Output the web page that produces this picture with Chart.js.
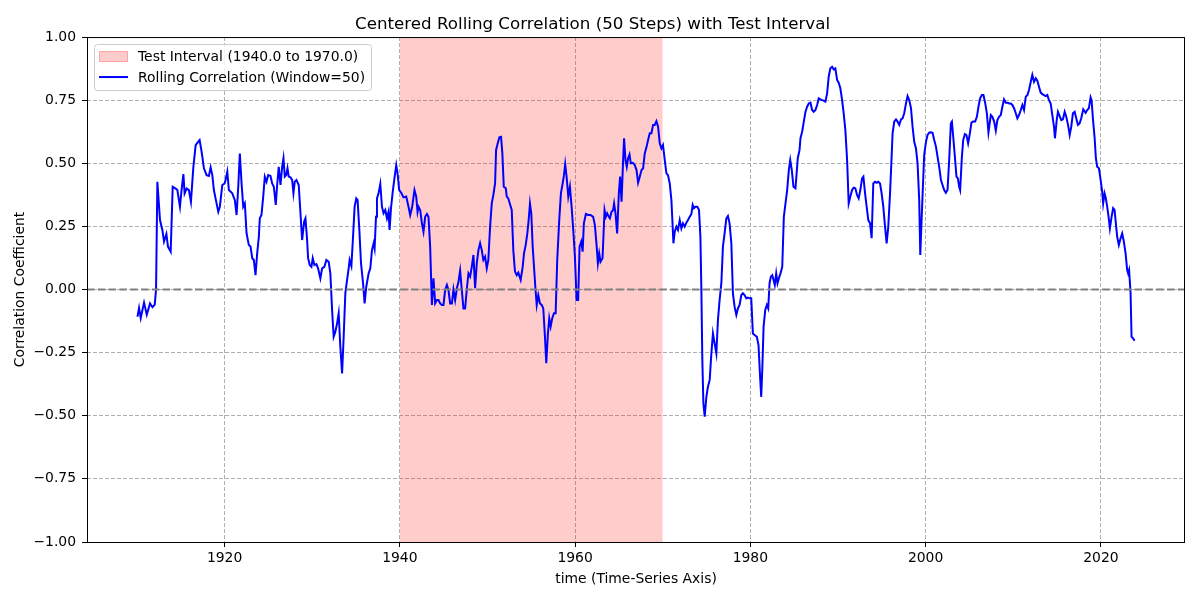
<!DOCTYPE html>
<html>
<head>
<meta charset="utf-8">
<script src="https://cdn.jsdelivr.net/npm/chart.js@4.4.1/dist/chart.umd.min.js"></script>
<style>
  html, body { margin: 0; padding: 0; background: #fff; }
</style>
</head>
<body>
<canvas id="myChart" width="1200" height="600"></canvas>
<script>
//Chart data
const years = [
  1910.06, 1910.24, 1910.43, 1910.81, 1911.12, 1911.49, 1911.77, 1912.03, 1912.18, 1912.33,
  1912.63, 1912.90, 1913.09, 1913.36, 1913.54, 1913.85, 1914.08, 1914.42, 1914.61, 1914.91,
  1915.07, 1915.30, 1915.44, 1915.67, 1915.93, 1916.16, 1916.44, 1916.70, 1916.89, 1917.15,
  1917.35, 1917.46, 1917.64, 1917.95, 1918.21, 1918.41, 1918.60, 1918.78, 1919.01, 1919.28,
  1919.46, 1919.74, 1920.00, 1920.11, 1920.31, 1920.49, 1920.88, 1921.17, 1921.37, 1921.56,
  1921.74, 1921.94, 1922.13, 1922.31, 1922.51, 1922.77, 1922.96, 1923.16, 1923.34, 1923.53,
  1923.72, 1923.91, 1924.02, 1924.21, 1924.41, 1924.59, 1924.78, 1924.98, 1925.24, 1925.43,
  1925.62, 1925.84, 1926.00, 1926.18, 1926.38, 1926.57, 1926.72, 1926.87, 1927.03, 1927.18,
  1927.32, 1927.52, 1927.71, 1927.86, 1928.01, 1928.20, 1928.46, 1928.66, 1928.85, 1929.08,
  1929.23, 1929.42, 1929.53, 1929.72, 1929.91, 1930.06, 1930.25, 1930.48, 1930.67, 1930.93,
  1931.13, 1931.39, 1931.62, 1931.88, 1932.07, 1932.27, 1932.45, 1932.64, 1932.84, 1933.02,
  1933.21, 1933.41, 1933.59, 1933.78, 1933.98, 1934.16, 1934.27, 1934.47, 1934.66, 1934.84,
  1935.03, 1935.18, 1935.38, 1935.57, 1935.80, 1935.98, 1936.17, 1936.44, 1936.63, 1936.82,
  1937.01, 1937.12, 1937.28, 1937.39, 1937.57, 1937.77, 1937.96, 1938.14, 1938.34, 1938.53,
  1938.71, 1938.83, 1938.99, 1939.17, 1939.36, 1939.59, 1939.74, 1939.93, 1940.16, 1940.42,
  1940.73, 1940.99, 1941.18, 1941.41, 1941.67, 1941.87, 1942.02, 1942.13, 1942.32, 1942.52,
  1942.70, 1942.89, 1943.09, 1943.27, 1943.46, 1943.66, 1943.84, 1944.03, 1944.23, 1944.41,
  1944.60, 1944.80, 1944.98, 1945.17, 1945.37, 1945.55, 1945.74, 1945.94, 1946.12, 1946.31,
  1946.51, 1946.69, 1946.88, 1947.07, 1947.26, 1947.45, 1947.64, 1947.83, 1948.02, 1948.21,
  1948.40, 1948.59, 1948.78, 1948.97, 1949.16, 1949.35, 1949.53, 1949.73, 1949.92, 1950.10,
  1950.30, 1950.49, 1950.67, 1950.87, 1950.98, 1951.17, 1951.36, 1951.55, 1951.70, 1951.86,
  1952.09, 1952.20, 1952.38, 1952.57, 1952.77, 1952.95, 1953.14, 1953.34, 1953.52, 1953.79,
  1954.02, 1954.17, 1954.36, 1954.55, 1954.70, 1954.85, 1955.00, 1955.16, 1955.31, 1955.46,
  1955.62, 1955.80, 1955.99, 1956.19, 1956.37, 1956.56, 1956.71, 1956.90, 1957.05, 1957.21,
  1957.39, 1957.59, 1957.78, 1957.96, 1958.19, 1958.38, 1958.58, 1958.73, 1958.87, 1959.03,
  1959.22, 1959.41, 1959.60, 1959.79, 1959.98, 1960.17, 1960.35, 1960.51, 1960.70, 1960.86,
  1961.00, 1961.23, 1961.49, 1961.77, 1962.06, 1962.26, 1962.45, 1962.60, 1962.75, 1962.90,
  1963.13, 1963.36, 1963.51, 1963.66, 1963.85, 1963.97, 1964.16, 1964.34, 1964.45, 1964.61,
  1964.80, 1964.99, 1965.14, 1965.30, 1965.48, 1965.59, 1965.75, 1965.90, 1966.05, 1966.21,
  1966.36, 1966.59, 1966.81, 1967.01, 1967.19, 1967.38, 1967.58, 1967.76, 1967.95, 1968.14,
  1968.33, 1968.52, 1968.71, 1968.90, 1969.09, 1969.28, 1969.47, 1969.66, 1969.85, 1970.03,
  1970.23, 1970.42, 1970.60, 1970.80, 1970.99, 1971.10, 1971.22, 1971.37, 1971.56, 1971.74,
  1971.94, 1972.13, 1972.31, 1972.51, 1972.70, 1972.88, 1973.08, 1973.27, 1973.42, 1973.57,
  1973.73, 1973.95, 1974.14, 1974.30, 1974.41, 1974.52, 1974.64, 1974.79, 1974.98, 1975.16,
  1975.36, 1975.55, 1975.73, 1975.92, 1976.12, 1976.30, 1976.49, 1976.69, 1976.87, 1977.06,
  1977.26, 1977.44, 1977.63, 1977.83, 1978.01, 1978.20, 1978.40, 1978.58, 1978.77, 1978.97,
  1979.15, 1979.34, 1979.54, 1979.72, 1979.91, 1980.10, 1980.29, 1980.48, 1980.74, 1980.93,
  1981.13, 1981.24, 1981.36, 1981.51, 1981.70, 1981.88, 1982.04, 1982.19, 1982.34, 1982.50,
  1982.65, 1982.79, 1982.95, 1983.10, 1983.25, 1983.44, 1983.64, 1983.82, 1984.01, 1984.20,
  1984.39, 1984.55, 1984.73, 1984.92, 1985.15, 1985.41, 1985.61, 1985.72, 1985.91, 1986.10,
  1986.29, 1986.48, 1986.66, 1986.86, 1987.05, 1987.23, 1987.43, 1987.62, 1987.80, 1988.00,
  1988.19, 1988.37, 1988.56, 1988.76, 1988.94, 1989.13, 1989.33, 1989.51, 1989.70, 1989.90,
  1990.08, 1990.27, 1990.47, 1990.65, 1990.84, 1991.04, 1991.22, 1991.41, 1991.61, 1991.79,
  1991.98, 1992.18, 1992.36, 1992.55, 1992.75, 1992.90, 1993.09, 1993.27, 1993.46, 1993.66,
  1993.84, 1994.03, 1994.23, 1994.41, 1994.60, 1994.80, 1994.98, 1995.17, 1995.37, 1995.55,
  1995.74, 1995.94, 1996.12, 1996.23, 1996.42, 1996.62, 1996.80, 1996.99, 1997.19, 1997.37,
  1997.56, 1997.76, 1997.94, 1998.13, 1998.33, 1998.51, 1998.70, 1998.90, 1999.08, 1999.27,
  1999.39, 1999.54, 1999.69, 1999.84, 2000.04, 2000.22, 2000.41, 2000.61, 2000.79, 2000.98,
  2001.18, 2001.36, 2001.55, 2001.75, 2001.93, 2002.12, 2002.31, 2002.50, 2002.69, 2002.88,
  2003.00, 2003.15, 2003.34, 2003.52, 2003.68, 2003.83, 2003.94, 2004.14, 2004.29, 2004.48,
  2004.66, 2004.85, 2005.05, 2005.23, 2005.42, 2005.65, 2005.85, 2006.03, 2006.22, 2006.42,
  2006.60, 2006.79, 2006.99, 2007.17, 2007.44, 2007.62, 2007.82, 2008.01, 2008.19, 2008.38,
  2008.58, 2008.76, 2008.95, 2009.15, 2009.33, 2009.52, 2009.72, 2009.90, 2010.09, 2010.29,
  2010.47, 2010.66, 2010.86, 2011.04, 2011.23, 2011.43, 2011.61, 2011.80, 2012.00, 2012.18,
  2012.37, 2012.57, 2012.75, 2012.94, 2013.13, 2013.32, 2013.51, 2013.70, 2013.89, 2014.08,
  2014.27, 2014.46, 2014.65, 2014.76, 2014.96, 2015.10, 2015.30, 2015.48, 2015.67, 2015.87,
  2016.05, 2016.25, 2016.44, 2016.62, 2016.81, 2017.01, 2017.19, 2017.38, 2017.57, 2017.76,
  2017.99, 2018.26, 2018.44, 2018.63, 2018.83, 2018.94, 2019.09, 2019.29, 2019.43, 2019.58,
  2019.78, 2019.97, 2020.15, 2020.26, 2020.42, 2020.57, 2020.72, 2020.88, 2021.03, 2021.22,
  2021.40, 2021.56, 2021.71, 2021.86, 2022.05, 2022.25, 2022.43, 2022.62, 2022.82, 2023.00,
  2023.11, 2023.22, 2023.39, 2023.50, 2023.68, 2023.84,
];

const rollingCorr = [
  -0.108, -0.073, -0.113, -0.052, -0.100, -0.055, -0.070, -0.060, 0.000, 0.427,
  0.275, 0.236, 0.190, 0.220, 0.170, 0.150, 0.407, 0.400, 0.394, 0.328,
  0.387, 0.457, 0.381, 0.400, 0.394, 0.348, 0.486, 0.572, 0.581, 0.592,
  0.552, 0.526, 0.480, 0.453, 0.450, 0.484, 0.453, 0.394, 0.354, 0.308,
  0.328, 0.414, 0.420, 0.434, 0.467, 0.394, 0.381, 0.354, 0.295, 0.407,
  0.539, 0.420, 0.328, 0.341, 0.222, 0.176, 0.170, 0.124, 0.117, 0.057,
  0.143, 0.209, 0.282, 0.295, 0.368, 0.447, 0.427, 0.453, 0.450, 0.420,
  0.407, 0.335, 0.414, 0.486, 0.414, 0.486, 0.520, 0.447, 0.453, 0.480,
  0.447, 0.444, 0.434, 0.381, 0.427, 0.434, 0.414, 0.302, 0.196, 0.269,
  0.282, 0.196, 0.124, 0.097, 0.090, 0.124, 0.097, 0.101, 0.084, 0.044,
  0.084, 0.090, 0.117, 0.110, 0.064, -0.081, -0.187, -0.167, -0.134, -0.094,
  -0.227, -0.332, -0.187, -0.015, 0.038, 0.084, 0.117, 0.093, 0.209, 0.328,
  0.361, 0.354, 0.236, 0.104, 0.025, -0.055, 0.011, 0.064, 0.084, 0.156,
  0.183, 0.163, 0.288, 0.361, 0.381, 0.418, 0.328, 0.302, 0.315, 0.282,
  0.308, 0.236, 0.322, 0.381, 0.434, 0.493, 0.460, 0.394, 0.383, 0.365,
  0.368, 0.328, 0.295, 0.328, 0.394, 0.368, 0.308, 0.328, 0.315, 0.262,
  0.229, 0.288, 0.299, 0.288, 0.170, -0.061, 0.044, -0.055, -0.042, -0.042,
  -0.055, -0.061, -0.061, -0.002, 0.018, -0.002, -0.055, -0.055, 0.000, -0.042,
  0.005, 0.031, 0.075, -0.002, -0.075, -0.075, 0.000, 0.064, 0.051, 0.090,
  0.137, 0.005, 0.104, 0.156, 0.183, 0.156, 0.117, 0.130, 0.084, 0.117,
  0.249, 0.341, 0.374, 0.420, 0.552, 0.579, 0.603, 0.605, 0.539, 0.407,
  0.401, 0.368, 0.361, 0.338, 0.315, 0.155, 0.071, 0.057, 0.067, 0.038,
  0.090, 0.143, 0.176, 0.222, 0.275, 0.341, 0.302, 0.170, 0.090, 0.011,
  -0.061, -0.022, -0.055, -0.061, -0.075, -0.187, -0.292, -0.174, -0.114, -0.147,
  -0.114, -0.094, -0.094, 0.117, 0.275, 0.381, 0.420, 0.453, 0.497, 0.447,
  0.368, 0.407, 0.328, 0.236, 0.130, -0.042, -0.042, 0.170, 0.190, 0.150,
  0.262, 0.299, 0.295, 0.295, 0.288, 0.255, 0.176, 0.104, 0.143, 0.110,
  0.124, 0.315, 0.288, 0.302, 0.288, 0.282, 0.308, 0.315, 0.341, 0.302,
  0.222, 0.381, 0.447, 0.348, 0.513, 0.599, 0.513, 0.486, 0.520, 0.535,
  0.500, 0.502, 0.493, 0.473, 0.423, 0.447, 0.473, 0.480, 0.539, 0.563,
  0.592, 0.619, 0.619, 0.652, 0.652, 0.667, 0.645, 0.579, 0.559, 0.572,
  0.513, 0.460, 0.453, 0.420, 0.354, 0.275, 0.183, 0.229, 0.249, 0.236,
  0.275, 0.242, 0.262, 0.249, 0.265, 0.275, 0.288, 0.299, 0.335, 0.322,
  0.328, 0.328, 0.315, 0.209, 0.000, -0.279, -0.450, -0.504, -0.425, -0.385,
  -0.358, -0.253, -0.174, -0.213, -0.253, -0.121, -0.042, 0.025, 0.170, 0.222,
  0.282, 0.291, 0.262, 0.183, -0.015, -0.068, -0.101, -0.075, -0.061, -0.022,
  -0.015, -0.022, -0.035, -0.032, -0.035, -0.035, -0.174, -0.180, -0.187, -0.220,
  -0.358, -0.425, -0.319, -0.147, -0.081, -0.061, -0.075, 0.025, 0.051, 0.057,
  0.038, 0.018, 0.064, 0.025, 0.044, 0.064, 0.090, 0.288, 0.341, 0.394,
  0.473, 0.513, 0.473, 0.407, 0.401, 0.520, 0.552, 0.599, 0.625, 0.665,
  0.704, 0.724, 0.737, 0.740, 0.711, 0.704, 0.711, 0.731, 0.757, 0.753,
  0.750, 0.748, 0.744, 0.777, 0.843, 0.876, 0.882, 0.872, 0.876, 0.830,
  0.819, 0.797, 0.750, 0.698, 0.632, 0.513, 0.341, 0.368, 0.394, 0.403,
  0.401, 0.374, 0.361, 0.394, 0.440, 0.447, 0.381, 0.328, 0.275, 0.262,
  0.203, 0.420, 0.427, 0.423, 0.427, 0.420, 0.381, 0.328, 0.249, 0.183,
  0.249, 0.381, 0.526, 0.619, 0.665, 0.674, 0.665, 0.652, 0.674, 0.678,
  0.698, 0.737, 0.766, 0.750, 0.718, 0.645, 0.585, 0.559, 0.500, 0.354,
  0.137, 0.275, 0.407, 0.533, 0.585, 0.612, 0.621, 0.623, 0.621, 0.592,
  0.566, 0.526, 0.486, 0.434, 0.414, 0.394, 0.383, 0.394, 0.513, 0.658,
  0.665, 0.605, 0.526, 0.447, 0.440, 0.407, 0.394, 0.526, 0.592, 0.616,
  0.612, 0.579, 0.619, 0.661, 0.665, 0.665, 0.684, 0.724, 0.757, 0.770,
  0.770, 0.740, 0.698, 0.622, 0.691, 0.684, 0.665, 0.629, 0.671, 0.684,
  0.691, 0.724, 0.753, 0.740, 0.740, 0.737, 0.737, 0.731, 0.718, 0.698,
  0.678, 0.691, 0.711, 0.731, 0.711, 0.764, 0.770, 0.790, 0.823, 0.850,
  0.823, 0.837, 0.827, 0.803, 0.780, 0.774, 0.770, 0.766, 0.770, 0.750,
  0.737, 0.691, 0.645, 0.599, 0.671, 0.704, 0.687, 0.671, 0.674, 0.704,
  0.684, 0.652, 0.612, 0.645, 0.698, 0.704, 0.678, 0.652, 0.658, 0.678,
  0.714, 0.700, 0.711, 0.718, 0.761, 0.750, 0.678, 0.599, 0.520, 0.486,
  0.480, 0.434, 0.387, 0.341, 0.381, 0.361, 0.328, 0.288, 0.242, 0.288,
  0.322, 0.315, 0.262, 0.209, 0.176, 0.203, 0.222, 0.190, 0.143, 0.077,
  0.064, 0.077, -0.015, -0.187, -0.193, -0.203,
];

//Test interval and axes
const testStart = 1940.0;
const testEnd = 1970.0;
const xMin = 1904.3;
const xMax = 2029.6;
const xTicks = [1920, 1940, 1960, 1980, 2000, 2020];
const yTicks = [-1.0, -0.75, -0.5, -0.25, 0.0, 0.25, 0.5, 0.75, 1.0];

const font = "'DejaVu Sans', sans-serif";
Chart.defaults.font.family = font;
Chart.defaults.color = "#000";

//Building point lists
const corrPoints = years.map((y, i) => ({ x: y, y: rollingCorr[i] }));
const spanPoints = [{ x: testStart, y: yTicks[yTicks.length - 1] }, { x: testEnd, y: yTicks[yTicks.length - 1] }];
const zeroPoints = [{ x: xMin, y: 0 }, { x: xMax, y: 0 }];

//Frame + legend box like matplotlib
const framePlugin = {
  id: "frame",
  afterDraw(chart) {
    const { ctx, chartArea: a } = chart;
    ctx.save();
    ctx.strokeStyle = "#000";
    ctx.lineWidth = 1;
    ctx.strokeRect(a.left + 0.5, a.top + 0.5, a.right - a.left - 1, a.bottom - a.top);

    // legend
    const bx = a.left + 7, by = a.top + 7, bw = 277, bh = 46;
    ctx.fillStyle = "rgba(255,255,255,0.8)";
    ctx.strokeStyle = "#cccccc";
    ctx.beginPath();
    ctx.roundRect(bx + 0.5, by + 0.5, bw, bh, 3);
    ctx.fill();
    ctx.stroke();

    ctx.fillStyle = "rgba(255,0,0,0.2)";
    ctx.strokeStyle = "rgba(255,0,0,0.2)";
    ctx.fillRect(bx + 5, by + 7, 29, 11);
    ctx.strokeRect(bx + 5.5, by + 7.5, 28, 10);

    ctx.strokeStyle = "#0000ff";
    ctx.lineWidth = 2;
    ctx.beginPath();
    ctx.moveTo(bx + 5, by + 33);
    ctx.lineTo(bx + 34, by + 33);
    ctx.stroke();

    ctx.fillStyle = "#000";
    ctx.font = "13.9px " + font;
    ctx.textBaseline = "middle";
    ctx.textAlign = "left";
    const ds = chart.data.datasets;
    ctx.fillText(ds[0].label, bx + 44, by + 13);
    ctx.fillText(ds[1].label, bx + 44, by + 34);
    ctx.restore();
  },
};

const ctx = document.getElementById("myChart").getContext("2d");
const chart = new Chart(ctx, {
  type: "line",
  data: {
    datasets: [
      {
        label: "Test Interval (" + testStart.toFixed(1) + " to " + testEnd.toFixed(1) + ")",
        data: spanPoints,
        backgroundColor: "rgba(255,0,0,0.2)",
        borderWidth: 0,
        pointRadius: 0,
        fill: { value: yTicks[0] },
        order: 3,
      },
      {
        label: "Rolling Correlation (Window=50)",
        data: corrPoints,
        borderColor: "#0000ff",
        borderWidth: 2,
        pointRadius: 0,
        tension: 0,
        fill: false,
        order: 2,
      },
      {
        label: "zero",
        data: zeroPoints,
        borderColor: "#808080",
        borderWidth: 2,
        borderDash: [7.5, 3.3],
        pointRadius: 0,
        fill: false,
        order: 1,
      },
    ],
  },
  options: {
    responsive: false,
    animation: false,
    devicePixelRatio: 1,
    layout: { padding: { left: 0, right: 15, top: 0, bottom: 0 } },
    plugins: {
      legend: { display: false },
      tooltip: { enabled: false },
      title: {
        display: true,
        text: "Centered Rolling Correlation (50 Steps) with Test Interval",
        font: { size: 16.7, weight: "normal" },
        color: "#000",
        padding: { top: 15, bottom: 2 },
      },
    },
    scales: {
      x: {
        type: "linear",
        min: xMin,
        max: xMax,
        afterBuildTicks: (s) => {
          s.ticks = xTicks.map((v) => ({ value: v }));
        },
        afterFit: (s) => {
          s.height = 58;
        },
        ticks: {
          callback: (v) => String(v),
          font: { size: 13.9 },
          color: "#000",
          padding: 3,
          maxRotation: 0,
        },
        grid: {
          color: "#b0b0b0",
          lineWidth: 1,
          tickLength: 5,
          tickColor: "#000",
          tickWidth: 1,
        },
        border: { display: false, dash: [4, 2] },
        title: {
          display: true,
          text: "time (Time-Series Axis)",
          font: { size: 13.9 },
          color: "#000",
          padding: { top: 0, bottom: 12 },
        },
      },
      y: {
        type: "linear",
        min: yTicks[0],
        max: yTicks[yTicks.length - 1],
        afterBuildTicks: (s) => {
          s.ticks = yTicks.map((v) => ({ value: v }));
        },
        afterFit: (s) => {
          s.width = 87;
        },
        ticks: {
          callback: (v) => v.toFixed(2).replace("-", "\u2212"),
          font: { size: 13.9 },
          color: "#000",
          padding: 6,
        },
        grid: {
          color: "#b0b0b0",
          lineWidth: 1,
          tickLength: 5,
          tickColor: "#000",
          tickWidth: 1,
        },
        border: { display: false, dash: [4, 2] },
        title: {
          display: true,
          text: "Correlation Coefficient",
          font: { size: 13.9 },
          color: "#000",
          padding: { top: 12, bottom: 0 },
        },
      },
    },
  },
  plugins: [framePlugin],
});
</script>
</body>
</html>
